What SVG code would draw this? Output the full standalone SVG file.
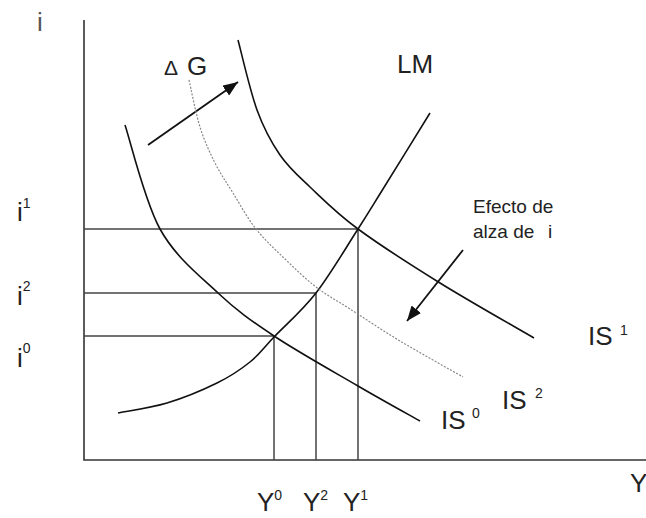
<svg xmlns="http://www.w3.org/2000/svg" width="646" height="518" viewBox="0 0 646 518">
<style>
text{font-family:"Liberation Sans",Arial,sans-serif;fill:#222}
.lbl{font-size:26px}
.sup{font-size:14px}
.axis{stroke:#333;stroke-width:1.6;fill:none}
.guide{stroke:#444;stroke-width:1.5;fill:none}
.curve{stroke:#111;stroke-width:1.6;fill:none}
.curve2{stroke:#888;stroke-width:1.2;fill:none;stroke-dasharray:2 1.5}
.arr{stroke:#111;stroke-width:1.8;fill:none}
</style>
<defs>
<marker id="ah" markerUnits="userSpaceOnUse" markerWidth="16" markerHeight="12" refX="15" refY="6" orient="auto">
<path d="M0,0 L15,6 L0,12 Z" fill="#111"/>
</marker>
</defs>
<g id="axes">
<path class="axis" d="M84,20 V460 H646"/>
</g>
<g id="connectors">
<path class="guide" d="M84,229 H358 M84,293 H316 M84,336 H274"/>
<path class="guide" d="M274,336 V460 M316,293 V460 M358,229 V460"/>
<path class="arr" d="M148,145 L238,82" marker-end="url(#ah)"/>
<path class="arr" d="M463,250 L407,321" marker-end="url(#ah)"/>
</g>
<g id="LM">
<path class="curve" d="M118,413 C126.2,411.3 150.5,408 167,403 C183.5,398 203.2,389.8 217,383 C230.8,376.2 240.5,369.7 250,362 C259.5,354.3 263,348.5 274,337 C285,325.5 302,311 316,293 C330,275 346.8,246.3 358,229 C369.2,211.7 371,208.3 383,189 C395,169.7 422.2,125.7 430,113"/>
<text class="lbl" x="397" y="73">LM</text>
</g>
<g id="IS0">
<path class="curve" d="M125,125 C130.8,142.3 144.5,201 160,229 C175.5,257 199,275.2 218,293 C237,310.8 250.7,320.5 274,336 C297.3,351.5 333.7,371.8 358,386 C382.3,400.2 409.7,415.2 420,421"/>
<text class="lbl" x="441" y="429">IS<tspan class="sup" x="472" y="418">0</tspan></text>
</g>
<g id="IS1">
<path class="curve" d="M238,40 C241.2,51.7 250,90.8 257,110 C264,129.2 271.2,142.2 280,155 C288.8,167.8 297,174.7 310,187 C323,199.3 336.3,213 358,229 C379.7,245 410.7,264.8 440,283 C469.3,301.2 518.3,328.8 534,338"/>
<text class="lbl" x="588" y="345">IS<tspan class="sup" x="620" y="335">1</tspan></text>
</g>
<g id="IS2">
<path class="curve2" d="M189,80 C190.8,87.8 195.7,113.2 200,127 C204.3,140.8 209.5,152 215,163 C220.5,174 226.2,182 233,193 C239.8,204 247.3,218 256,229 C264.7,240 275,249.3 285,259 C295,268.7 305.2,278.7 316,287 C326.8,295.3 336,300 350,309 C364,318 381.2,329.7 400,341 C418.8,352.2 452.5,371 463,377"/>
<text class="lbl" x="502" y="409">IS<tspan class="sup" x="535" y="398">2</tspan></text>
</g>
<g id="deltaG">
<text x="164" y="75" style="font-size:21px">Δ</text>
<text class="lbl" x="187" y="75">G</text>
</g>
<g id="efecto">
<text x="473" y="213" style="font-size:19px">Efecto de</text>
<text x="473" y="238" style="font-size:19px">alza de<tspan x="548">i</tspan></text>
</g>
<g id="labels">
<text class="lbl" x="37" y="31" style="fill:#555">i</text>
<text class="lbl" x="17" y="221">i<tspan class="sup" dy="-13">1</tspan></text>
<text class="lbl" x="17" y="305">i<tspan class="sup" dy="-14">2</tspan></text>
<text class="lbl" x="17" y="367">i<tspan class="sup" dy="-14">0</tspan></text>
<text class="lbl" x="257" y="511">Y<tspan class="sup" dy="-11">0</tspan></text>
<text class="lbl" x="303" y="511">Y<tspan class="sup" dy="-11">2</tspan></text>
<text class="lbl" x="343" y="511">Y<tspan class="sup" dy="-11">1</tspan></text>
<text class="lbl" x="630" y="492">Y</text>
</g>
</svg>
